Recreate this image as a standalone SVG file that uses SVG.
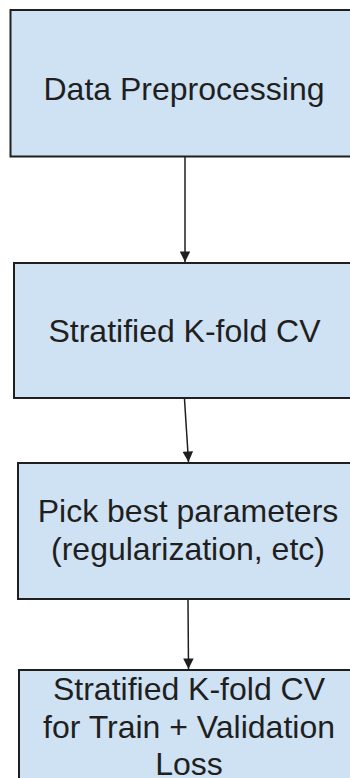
<svg xmlns="http://www.w3.org/2000/svg" width="350" height="778" viewBox="0 0 350 778">
  <style>
    .box { fill: #cfe2f3; stroke: #1f1f1f; stroke-width: 2; }
    .label { font-family: "Liberation Sans", Arial, sans-serif; font-size: 32px; fill: #1f1f1f; text-anchor: middle; }
    .edge { stroke: #1f1f1f; stroke-width: 1.5; fill: none; marker-end: url(#arrow); }
  </style>
  <defs>
    <marker id="arrow" viewBox="0 0 10 10" refX="10" refY="5" markerWidth="8" markerHeight="7" markerUnits="strokeWidth" orient="auto">
      <path d="M0,0 L10,5 L0,10 z" fill="#1f1f1f"/>
    </marker>
  </defs>
  <rect width="350" height="778" fill="#ffffff"/>

  <!-- connectors -->
  <g id="connectors">
    <line class="edge" x1="185" y1="157" x2="185" y2="262"/>
    <line class="edge" x1="184.5" y1="399" x2="188.5" y2="462"/>
    <line class="edge" x1="188" y1="600" x2="188.5" y2="669"/>
  </g>

  <g id="node-preprocessing">
    <rect class="box" x="10.5" y="10" width="360" height="146.5"/>
    <text class="label" x="184" y="100">Data Preprocessing</text>
  </g>

  <g id="node-kfold">
    <rect class="box" x="14" y="263" width="360" height="135"/>
    <text class="label" x="184.5" y="342">Stratified K-fold CV</text>
  </g>

  <g id="node-params">
    <rect class="box" x="18" y="463" width="360" height="136"/>
    <text class="label" x="188" y="522">Pick best parameters</text>
    <text class="label" x="188" y="560">(regularization, etc)</text>
  </g>

  <g id="node-loss">
    <rect class="box" x="19" y="670" width="360" height="130"/>
    <text class="label" x="189" y="700">Stratified K-fold CV</text>
    <text class="label" x="189" y="738">for Train + Validation</text>
    <text class="label" x="189" y="775">Loss</text>
  </g>
</svg>
